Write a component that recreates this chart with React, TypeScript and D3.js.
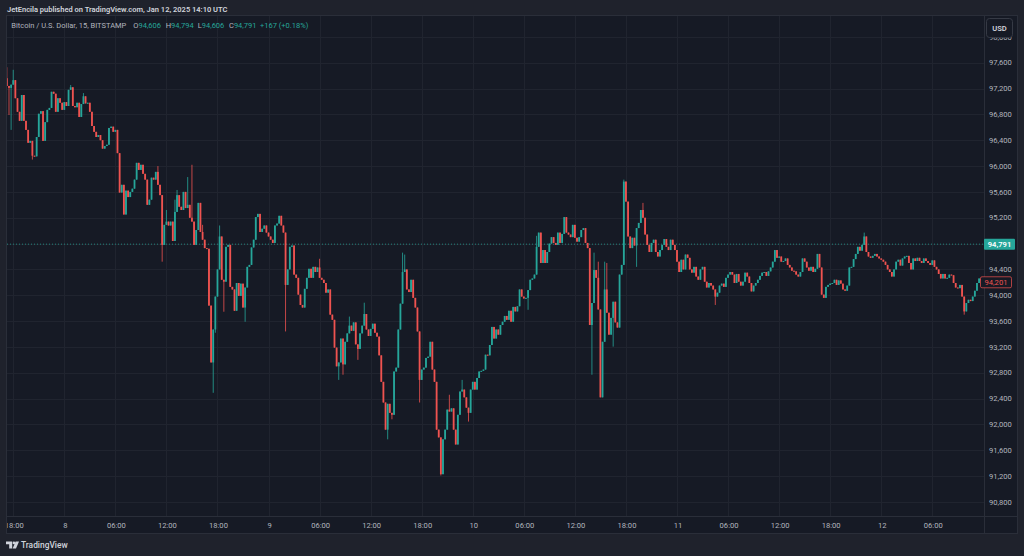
import React, { useEffect, useRef } from "react";
import * as d3 from "d3";

const WIDTH = 1024;
const HEIGHT = 556;

// BTC/USD 15 minute bars, first visible bar opens Jan 7 2025 17:15 UTC
const firstBarTime = Date.UTC(2025, 0, 7, 17, 15);
const barMinutes = 15;
const firstOpen = 97360;

// closes, one per bar (open = previous close)
const closes = [
  97240, 97210, 97260, 97330, 97050, 96840, 96700, 97100, 96700, 96560,
  96360, 96390, 96160, 96150, 96450, 96810, 96850, 96390, 96680, 96870,
  96900, 97150, 97120, 96840, 97050, 96980, 96870, 96990, 96930, 97180,
  97220, 96930, 96910, 96980, 96760, 96960, 97080, 96970, 96980, 96840,
  96620, 96530, 96450, 96480, 96400, 96270, 96310, 96330, 96590, 96610,
  96530, 96560, 96200, 95590, 95710, 95250, 95620, 95520, 95600, 95650,
  95790, 96050, 95940, 96020, 95880, 95790, 95400, 95480, 95820, 95790,
  95910, 95710, 95550, 94780, 95090, 95140, 95080, 95140, 94840, 95290,
  95550, 95370, 95320, 95600, 95350, 95400, 95200, 95140, 94780, 95010,
  95430, 94980, 94860, 94730, 94720, 93840, 92960, 93470, 93980, 94400,
  94910, 94240, 94210, 94750, 94780, 94130, 94090, 93760, 94190, 93990,
  94180, 93810, 94120, 94440, 94470, 94740, 94860, 95210, 95260, 94980,
  95030, 95080, 94970, 94910, 94860, 94810, 95080, 95110, 95230, 95080,
  94970, 94160, 94400, 94750, 94770, 94320, 94270, 94010, 93850, 93810,
  94100, 94270, 94410, 94270, 94440, 94360, 94430, 94270, 94240, 94190,
  94040, 94090, 93700, 93620, 93190, 92900, 92960, 93330, 92930, 93280,
  93410, 93530, 93450, 93580, 93240, 93170, 93410, 93530, 93710, 93470,
  93370, 93480, 93560, 93420, 93360, 93070, 92660, 92340, 91920, 92320,
  92180, 92150, 92820, 92880, 93470, 93870, 94360, 94400, 94090, 94050,
  94240, 93960, 93810, 93440, 92690, 92850, 92880, 93030, 93050, 93280,
  92850, 92660, 91920, 91800, 91230, 91770, 91920, 92230, 92200, 92250,
  91920, 91690, 92150, 92510, 92540, 92420, 92260, 92180, 92540, 92660,
  92540, 92720, 92820, 92830, 92850, 93080, 93070, 93230, 93510, 93330,
  93470, 93390, 93540, 93590, 93680, 93620, 93760, 93590, 93820, 93750,
  93830, 94090, 93980, 93950, 93960, 94080, 94240, 94260, 94320, 94750,
  94970, 94500, 94700, 94500, 94670, 94800, 94900, 94810, 94780, 94970,
  94810, 94950, 95210, 94970, 94940, 94900, 95090, 94890, 94830, 94900,
  95010, 95040, 94810, 94730, 93540, 93880, 94390, 94270, 93780, 92420,
  93280, 94090, 93730, 93390, 93650, 93900, 93580, 93500, 94320, 94470,
  95760, 95450, 94910, 94730, 94890, 94770, 95040, 95120, 95320, 95200,
  94940, 94780, 94670, 94810, 94860, 94670, 94600, 94700, 94780, 94870,
  94750, 94700, 94860, 94780, 94700, 94520, 94360, 94550, 94400, 94630,
  94580, 94400, 94350, 94440, 94290, 94240, 94400, 94440, 94210, 94120,
  94190, 94150, 94090, 93980, 94040, 94150, 94180, 94130, 94270, 94320,
  94360, 94320, 94190, 94330, 94210, 94150, 94210, 94350, 94290, 94190,
  94060, 94150, 94190, 94240, 94300, 94350, 94360, 94300, 94370, 94430,
  94520, 94700, 94580, 94600, 94520, 94530, 94570, 94470, 94430, 94380,
  94370, 94320, 94290, 94360, 94570, 94520, 94430, 94380, 94440, 94360,
  94410, 94640, 94430, 94010, 93960, 94130, 94160, 94180, 94190, 94240,
  94160, 94230, 94180, 94090, 94070, 94150, 94430, 94440, 94560, 94640,
  94750, 94690, 94780, 94910, 94670, 94600, 94580, 94610, 94640, 94600,
  94570, 94550, 94520, 94470, 94400, 94360, 94290, 94400, 94520, 94550,
  94460, 94570, 94600, 94610, 94500, 94400, 94570, 94530, 94580, 94530,
  94500, 94570, 94530, 94500, 94470, 94540, 94440, 94400, 94330, 94260,
  94330, 94260, 94270, 94320, 94310, 94190, 94120, 94110, 94160, 93980,
  93750, 93880, 93930, 93910, 93980, 94070, 94190, 94260, 94230,
];

// visible wicks: [bar index, high, low]
const wicks: [number, number | null, number | null][] = [
  [0, 97530, null], [1, null, 96790], [2, null, 96560], [3, 97490, null],
  [12, null, 96100], [30, 97255, null], [36, 97130, null], [71, 96000, null],
  [73, null, 94520], [75, 95320, null], [79, 95480, null], [80, 95630, null],
  [85, 95830, null], [87, 96020, null], [92, 95090, null], [97, null, 92490],
  [98, null, 93420], [100, 95080, null], [102, null, 93745], [112, null, 93590],
  [131, null, 93440], [147, 94565, null], [156, null, 92690], [158, null, 92770],
  [161, 93670, null], [165, null, 93000], [168, 93885, null], [179, null, 91770],
  [181, null, 92080], [186, 94660, null], [187, 94630, null], [194, null, 92340],
  [204, null, 91210], [208, 92460, null], [214, 92690, null], [217, null, 92045],
  [245, null, 93775], [249, 94920, null], [275, null, 92770], [276, 94660, null],
  [278, 94520, null], [281, 94520, null], [282, 94500, null], [285, null, 93205],
  [290, 95790, null], [296, null, 94440], [299, 95430, null], [333, null, 93850],
  [403, 94970, null], [450, null, 93700],
];

const priceTicks = [
  90800, 91200, 91600, 92000, 92400, 92800, 93200, 93600, 94000, 94400,
  94800, 95200, 95600, 96000, 96400, 96800, 97200, 97600, 98000,
];

const timeTicks: [string, string][] = [
  ["2025-01-07T18:00Z", "18:00"], ["2025-01-08T00:00Z", "8"],
  ["2025-01-08T06:00Z", "06:00"], ["2025-01-08T12:00Z", "12:00"],
  ["2025-01-08T18:00Z", "18:00"], ["2025-01-09T00:00Z", "9"],
  ["2025-01-09T06:00Z", "06:00"], ["2025-01-09T12:00Z", "12:00"],
  ["2025-01-09T18:00Z", "18:00"], ["2025-01-10T00:00Z", "10"],
  ["2025-01-10T06:00Z", "06:00"], ["2025-01-10T12:00Z", "12:00"],
  ["2025-01-10T18:00Z", "18:00"], ["2025-01-11T00:00Z", "11"],
  ["2025-01-11T06:00Z", "06:00"], ["2025-01-11T12:00Z", "12:00"],
  ["2025-01-11T18:00Z", "18:00"], ["2025-01-12T00:00Z", "12"],
  ["2025-01-12T06:00Z", "06:00"],
];

const legendTitle = "Bitcoin / U.S. Dollar, 15, BITSTAMP";
const legendOHLC = { O: "94,606", H: "94,794", L: "94,606", C: "94,791" };
const legendChange = "+167 (+0.18%)";
const lastPrice = 94791;
const markPrice = 94201;

const UP = "#26a69a";
const DOWN = "#ef5350";
const PANE = "#161a25";
const OUTER = "#1f222c";
const GRID = "#20242f";
const BORDER = "#2a2e39";
const TEXT = "#b2b5be";
const FONT = "Roboto, 'DejaVu Sans', sans-serif";

export default function App() {
  const svgRef = useRef<SVGSVGElement>(null);

  useEffect(() => {
    const svg = d3.select(svgRef.current);
    svg.selectChildren().remove();

    const left = 7,
      top = 16,
      right = 984,
      bottom = 516,
      paneRight = 1017,
      paneBottom = 533;

    const x = d3
      .scaleUtc()
      .domain([new Date(Date.UTC(2025, 0, 8, 0, 0)), new Date(Date.UTC(2025, 0, 12, 6, 0))])
      .range([64.3, 932.3]);
    const y = d3.scaleLinear().domain([90800, 97600]).range([502, 62.7]);

    const wickMap = new Map(wicks.map((w) => [w[0], w]));
    const bars = closes.map((c, i) => {
      const o = i === 0 ? firstOpen : closes[i - 1];
      let hi = Math.max(o, c),
        lo = Math.min(o, c);
      const w = wickMap.get(i);
      if (w) {
        if (w[1] != null) hi = Math.max(hi, w[1]);
        if (w[2] != null) lo = Math.min(lo, w[2]);
      }
      return { t: new Date(firstBarTime + i * barMinutes * 60000), o, c, hi, lo };
    });

    svg.append("rect").attr("width", WIDTH).attr("height", HEIGHT).attr("fill", OUTER);
    svg
      .append("rect")
      .attr("x", left)
      .attr("y", top)
      .attr("width", paneRight - left)
      .attr("height", paneBottom - top)
      .attr("fill", PANE);

    const defs = svg.append("defs");
    defs
      .append("clipPath")
      .attr("id", "plot-clip")
      .append("rect")
      .attr("x", left)
      .attr("y", top)
      .attr("width", right - left)
      .attr("height", bottom - top);
    defs
      .append("clipPath")
      .attr("id", "time-clip")
      .append("rect")
      .attr("x", left)
      .attr("y", bottom)
      .attr("width", right - left)
      .attr("height", paneBottom - bottom);

    // grid
    const grid = svg.append("g").attr("clip-path", "url(#plot-clip)");
    grid
      .selectAll("line.h")
      .data(priceTicks)
      .enter()
      .append("line")
      .attr("x1", left)
      .attr("x2", right)
      .attr("y1", (d) => Math.round(y(d)) + 0.5)
      .attr("y2", (d) => Math.round(y(d)) + 0.5)
      .attr("stroke", GRID);
    grid
      .selectAll("line.v")
      .data(timeTicks)
      .enter()
      .append("line")
      .attr("x1", (d) => Math.round(x(new Date(d[0]))) + 0.5)
      .attr("x2", (d) => Math.round(x(new Date(d[0]))) + 0.5)
      .attr("y1", top)
      .attr("y2", bottom)
      .attr("stroke", GRID);

    // last price dotted line
    grid
      .append("line")
      .attr("x1", left)
      .attr("x2", right)
      .attr("y1", y(lastPrice))
      .attr("y2", y(lastPrice))
      .attr("stroke", UP)
      .attr("stroke-opacity", 0.75)
      .attr("stroke-dasharray", "1,2");

    // candles
    const candles = svg
      .append("g")
      .attr("clip-path", "url(#plot-clip)")
      .selectAll("g")
      .data(bars)
      .enter()
      .append("g")
      .attr("fill", (d) => (d.c >= d.o ? UP : DOWN))
      .attr("stroke", (d) => (d.c >= d.o ? UP : DOWN));
    candles
      .append("line")
      .attr("x1", (d) => x(d.t))
      .attr("x2", (d) => x(d.t))
      .attr("y1", (d) => y(d.hi))
      .attr("y2", (d) => y(d.lo))
      .attr("stroke-width", 1)
      .attr("stroke-opacity", 0.8);
    candles
      .append("rect")
      .attr("x", (d) => x(d.t) - 0.9)
      .attr("width", 1.8)
      .attr("y", (d) => y(Math.max(d.o, d.c)))
      .attr("height", (d) => Math.max(Math.abs(y(d.o) - y(d.c)), 1))
      .attr("stroke", "none");

    // borders
    svg
      .append("rect")
      .attr("x", left - 0.5)
      .attr("y", top - 0.5)
      .attr("width", paneRight - left + 1)
      .attr("height", paneBottom - top + 1)
      .attr("fill", "none")
      .attr("stroke", BORDER);
    svg
      .append("line")
      .attr("x1", right + 0.5)
      .attr("x2", right + 0.5)
      .attr("y1", top)
      .attr("y2", paneBottom)
      .attr("stroke", BORDER);
    svg
      .append("line")
      .attr("x1", left)
      .attr("x2", paneRight)
      .attr("y1", bottom + 0.5)
      .attr("y2", bottom + 0.5)
      .attr("stroke", BORDER);

    // price axis
    svg
      .append("g")
      .selectAll("text")
      .data(priceTicks)
      .enter()
      .append("text")
      .attr("x", 989)
      .attr("y", (d) => y(d))
      .attr("dy", "0.35em")
      .attr("font-family", FONT)
      .attr("font-size", 7.6)
      .attr("fill", TEXT)
      .text((d) => d3.format(",")(d));

    // USD box, covering most of the top label
    svg
      .append("rect")
      .attr("x", 986.5)
      .attr("y", 18.5)
      .attr("width", 26)
      .attr("height", 19)
      .attr("rx", 3)
      .attr("fill", PANE)
      .attr("stroke", "#363a45");
    svg
      .append("text")
      .attr("x", 999.5)
      .attr("y", 28)
      .attr("dy", "0.35em")
      .attr("text-anchor", "middle")
      .attr("font-family", FONT)
      .attr("font-size", 7.6)
      .attr("font-weight", 600)
      .attr("fill", "#d1d4dc")
      .text("USD");

    // last price label
    svg
      .append("rect")
      .attr("x", 984)
      .attr("y", y(lastPrice) - 5.5)
      .attr("width", 31)
      .attr("height", 11)
      .attr("rx", 1)
      .attr("fill", UP);
    svg
      .append("text")
      .attr("x", 999.5)
      .attr("y", y(lastPrice))
      .attr("dy", "0.35em")
      .attr("text-anchor", "middle")
      .attr("font-family", FONT)
      .attr("font-size", 7.6)
      .attr("font-weight", 600)
      .attr("fill", "#ffffff")
      .text(d3.format(",")(lastPrice));

    // outlined price label
    svg
      .append("rect")
      .attr("x", 980.5)
      .attr("y", y(markPrice) - 5.5)
      .attr("width", 31)
      .attr("height", 11)
      .attr("rx", 1.5)
      .attr("fill", PANE)
      .attr("stroke", DOWN)
      .attr("stroke-opacity", 0.7);
    svg
      .append("text")
      .attr("x", 996)
      .attr("y", y(markPrice))
      .attr("dy", "0.35em")
      .attr("text-anchor", "middle")
      .attr("font-family", FONT)
      .attr("font-size", 7.6)
      .attr("fill", DOWN)
      .text(d3.format(",")(markPrice));

    // time axis
    svg
      .append("g")
      .attr("clip-path", "url(#time-clip)")
      .selectAll("text")
      .data(timeTicks)
      .enter()
      .append("text")
      .attr("x", (d) => x(new Date(d[0])) + 1)
      .attr("y", 525)
      .attr("dy", "0.35em")
      .attr("text-anchor", "middle")
      .attr("font-family", FONT)
      .attr("font-size", 7.6)
      .attr("fill", TEXT)
      .text((d) => d[1]);

    // header
    svg
      .append("text")
      .attr("x", 7)
      .attr("y", 9.5)
      .attr("dy", "0.35em")
      .attr("font-family", FONT)
      .attr("font-size", 7.5)
      .attr("font-weight", 600)
      .attr("fill", "#d1d4dc")
      .text("JetEncila published on TradingView.com, Jan 12, 2025 14:10 UTC");

    const legend = svg
      .append("g")
      .attr("font-family", FONT)
      .attr("font-size", 7.5)
      .attr("fill", TEXT);
    legend.append("text").attr("x", 11.3).attr("y", 25.5).attr("dy", "0.35em").text(legendTitle);
    const ohlcX: Record<string, number> = { O: 133.3, H: 165.7, L: 197.7, C: 229 };
    Object.entries(legendOHLC).forEach(([k, v]) => {
      const t = legend
        .append("text")
        .attr("x", ohlcX[k])
        .attr("y", 25.5)
        .attr("dy", "0.35em");
      t.append("tspan").text(k);
      t.append("tspan").attr("fill", UP).text(v);
    });
    legend
      .append("text")
      .attr("x", 260)
      .attr("y", 25.5)
      .attr("dy", "0.35em")
      .attr("fill", UP)
      .text(legendChange);

    // TradingView mark
    const logo = svg.append("g").attr("fill", "#d1d4dc");
    logo.append("path").attr("d", "M6 541.5h6.2v7h-3v-4.2H6z");
    logo.append("circle").attr("cx", 13.9).attr("cy", 542.9).attr("r", 1.3);
    logo.append("path").attr("d", "M15.6 541.5h3.4l-3 7h-3.4z");
    svg
      .append("text")
      .attr("x", 21)
      .attr("y", 545.2)
      .attr("dy", "0.35em")
      .attr("font-family", FONT)
      .attr("font-size", 8.4)
      .attr("font-weight", 500)
      .attr("fill", "#d1d4dc")
      .text("TradingView");
  }, []);

  return (
    <svg
      ref={svgRef}
      width={WIDTH}
      height={HEIGHT}
      style={{ position: "fixed", left: 0, top: 0, display: "block" }}
    />
  );
}
